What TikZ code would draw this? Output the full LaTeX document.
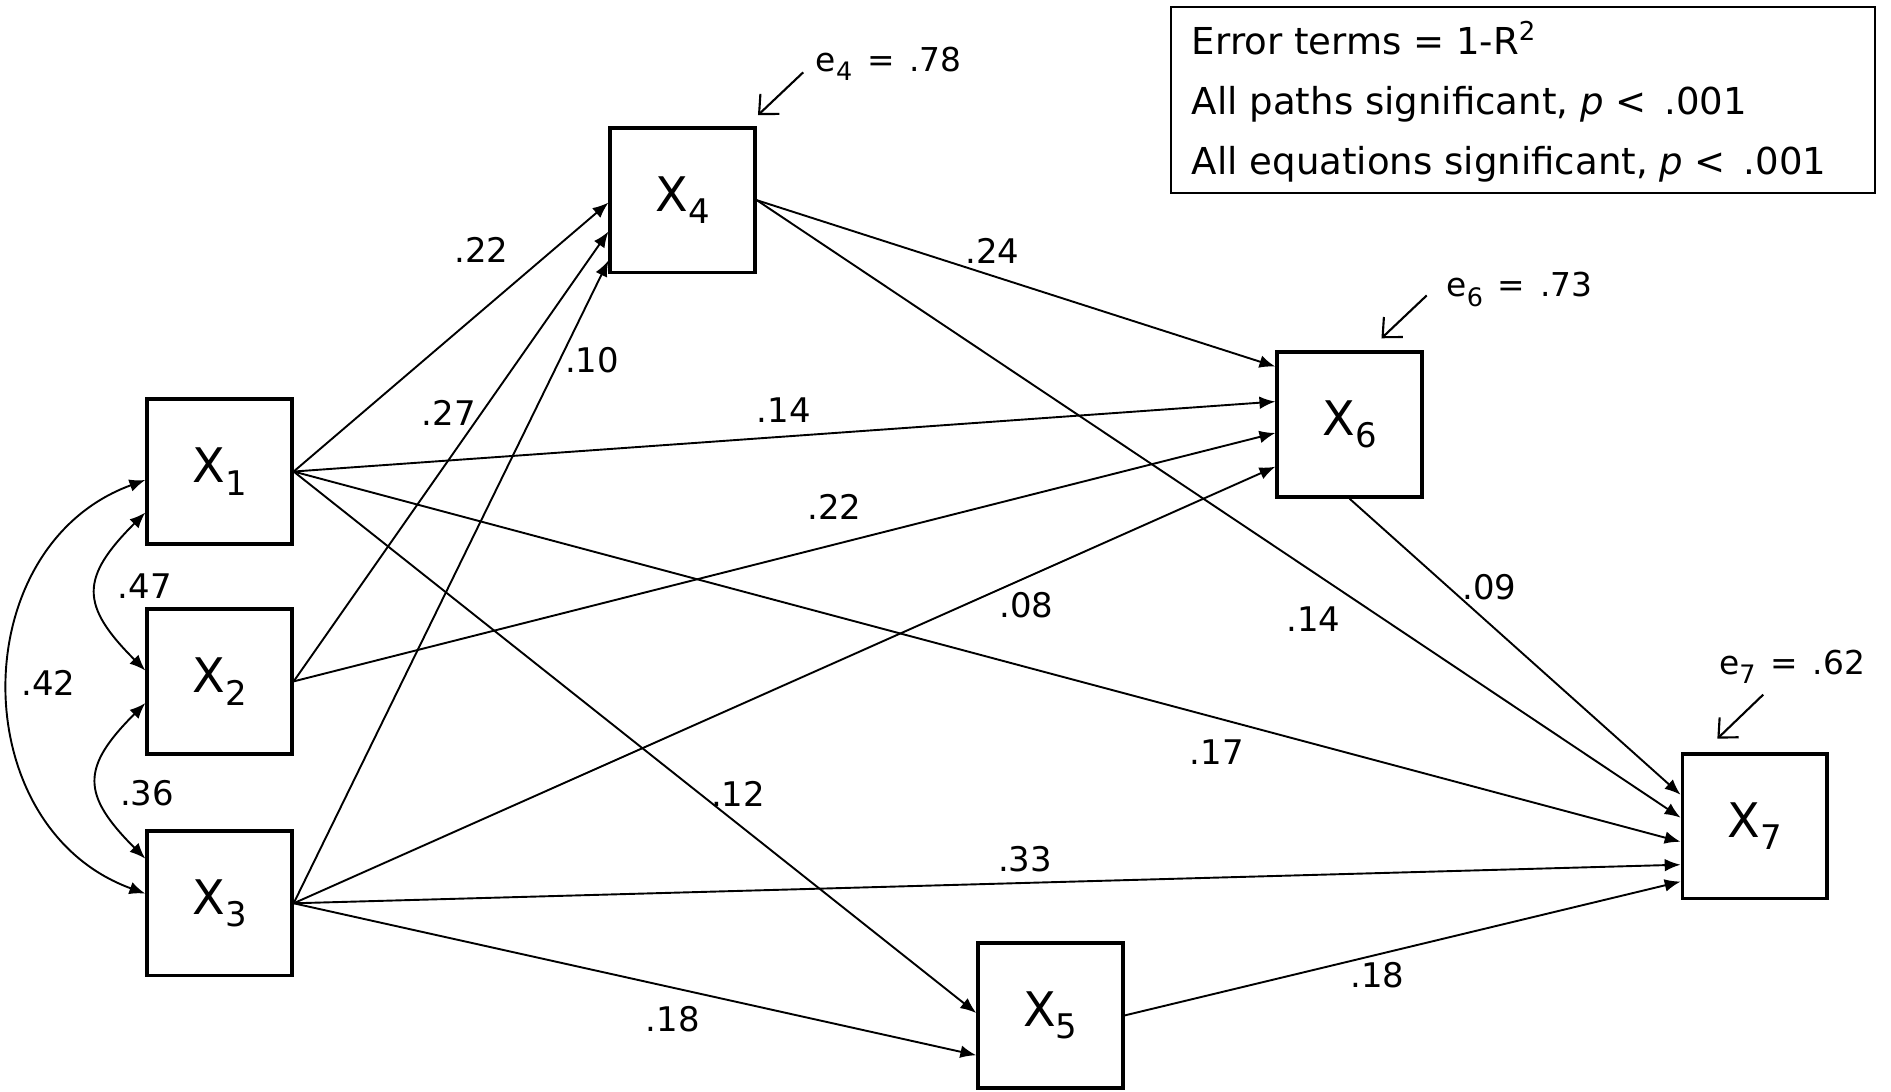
\documentclass[tikz,border=0pt]{standalone}
\usepackage{fontspec}
\setmainfont{DejaVu Sans}
\usetikzlibrary{arrows.meta}

\tikzset{
  var/.style={draw, line width=1.7pt, minimum size=2.4cm, inner sep=0pt,
    font=\fontsize{22.5}{25}\selectfont},
  link/.style={line width=0.9pt, -{Latex[length=7.5pt,width=6pt]}},
  cov/.style={line width=0.9pt, {Latex[length=7.5pt,width=6pt]}-{Latex[length=7.5pt,width=6pt]}},
  coef/.style={font=\fontsize{16}{18}\selectfont, inner sep=0pt},
  errlab/.style={font=\fontsize{15.5}{17}\selectfont, inner sep=0pt},
  errarrow/.style={line width=1pt, -{Straight Barb[length=7pt,width=13pt]}},
  legendtext/.style={font=\fontsize{17.5}{20}\selectfont, inner sep=0pt, anchor=base west}
}
\newcommand{\eqgap}{\hspace{0.45em}}
\newcommand{\esub}[1]{\raisebox{-4.5pt}{\fontsize{12}{12}\selectfont #1}}
\newcommand{\xsub}[1]{\raisebox{-6pt}{\fontsize{16}{16}\selectfont #1}}

\begin{document}
\begin{tikzpicture}
\useasboundingbox (0,0) rectangle (31.36,18.10);

% Variables
\node[var] (X1) at (3.64,10.28) {X\xsub{1}};
\node[var] (X2) at (3.64,6.80) {X\xsub{2}};
\node[var] (X3) at (3.64,3.12) {X\xsub{3}};
\node[var] (X4) at (11.32,14.78) {X\xsub{4}};
\node[var] (X5) at (17.42,1.26) {X\xsub{5}};
\node[var] (X6) at (22.38,11.06) {X\xsub{6}};
\node[var] (X7) at (29.10,4.40) {X\xsub{7}};

% Paths
\draw[link] (X1.east) -- ([yshift=-0.04cm]X4.west);
\draw[link] (X2.east) -- ([yshift=-0.52cm]X4.west);
\draw[link] (X3.east) -- ([yshift=-1.00cm]X4.west);
\draw[link] (X4.east) -- ([yshift=0.96cm]X6.west);
\draw[link] (X1.east) -- ([yshift=0.38cm]X6.west);
\draw[link] (X2.east) -- ([yshift=-0.14cm]X6.west);
\draw[link] (X3.east) -- ([yshift=-0.70cm]X6.west);
\draw[link] (X6.south) -- ([yshift=0.52cm]X7.west);
\draw[link] (X4.east) -- ([yshift=0.14cm]X7.west);
\draw[link] (X1.east) -- ([yshift=-0.26cm]X7.west);
\draw[link] (X3.east) -- ([yshift=-0.64cm]X7.west);
\draw[link] (X5.east) -- ([yshift=-0.92cm]X7.west);
\draw[link] (X1.east) -- ([yshift=0.04cm]X5.west);
\draw[link] (X3.east) -- ([yshift=-0.66cm]X5.west);

% Correlations
\draw[cov] ([yshift=-0.68cm]X1.west) to[out=225,in=135,looseness=1.5] ([yshift=0.18cm]X2.west);
\draw[cov] ([yshift=-0.36cm]X2.west) to[out=225,in=135,looseness=1.5] ([yshift=0.74cm]X3.west);
\draw[cov] ([yshift=-0.14cm]X1.west) to[out=200,in=160,looseness=1.2] ([yshift=0.16cm]X3.west);

% Coefficients
\node[coef] (r12) at (2.40,8.38) {.47};
\node[coef] (r23) at (2.44,4.94) {.36};
\node[coef] (r13) at (0.80,6.78) {.42};
\node[coef] (b14) at (7.98,13.96) {.22};
\node[coef] (b24) at (7.44,11.26) {.27};
\node[coef] (b34) at (9.82,12.12) {.10};
\node[coef] (b16) at (13.00,11.30) {.14};
\node[coef] (b26) at (13.84,9.70) {.22};
\node[coef] (b46) at (16.46,13.94) {.24};
\node[coef] (b36) at (17.02,8.06) {.08};
\node[coef] (b47) at (21.78,7.84) {.14};
\node[coef] (b67) at (24.70,8.36) {.09};
\node[coef] (b17) at (20.18,5.62) {.17};
\node[coef] (b15) at (12.24,4.94) {.12};
\node[coef] (b37) at (17.00,3.86) {.33};
\node[coef] (b35) at (11.16,1.20) {.18};
\node[coef] (b57) at (22.84,1.92) {.18};

% Error terms
\node[errlab] (e4) at (14.74,17.04) {e\esub{4}\eqgap=\eqgap.78};
\node[errlab] (e6) at (25.20,13.30) {e\esub{6}\eqgap=\eqgap.73};
\node[errlab] (e7) at (29.72,7.04) {e\esub{7}\eqgap=\eqgap.62};
\draw[errarrow] ([shift={(-1.42,-0.14)}]e4.center) -- ([shift={(0.02,0.18)}]X4.north east);
\draw[errarrow] ([shift={(-1.54,-0.10)}]e6.center) -- ([shift={(-0.70,0.20)}]X6.north east);
\draw[errarrow] ([shift={(-0.48,-0.46)}]e7.center) -- ([shift={(-0.62,0.22)}]X7.north);

% Legend
\node[draw, line width=0.9pt, minimum width=11.68cm, minimum height=3.08cm, inner sep=0pt] (legend) at (25.26,16.44) {};
\node[legendtext] (note1) at (19.76,17.20) {Error terms = 1-R\textsuperscript{2}};
\node[legendtext] (note2) at (19.76,16.20) {All paths significant, \textit{p} <\, .001};
\node[legendtext] (note3) at (19.76,15.20) {All equations significant, \textit{p} <\, .001};

\end{tikzpicture}
\end{document}
